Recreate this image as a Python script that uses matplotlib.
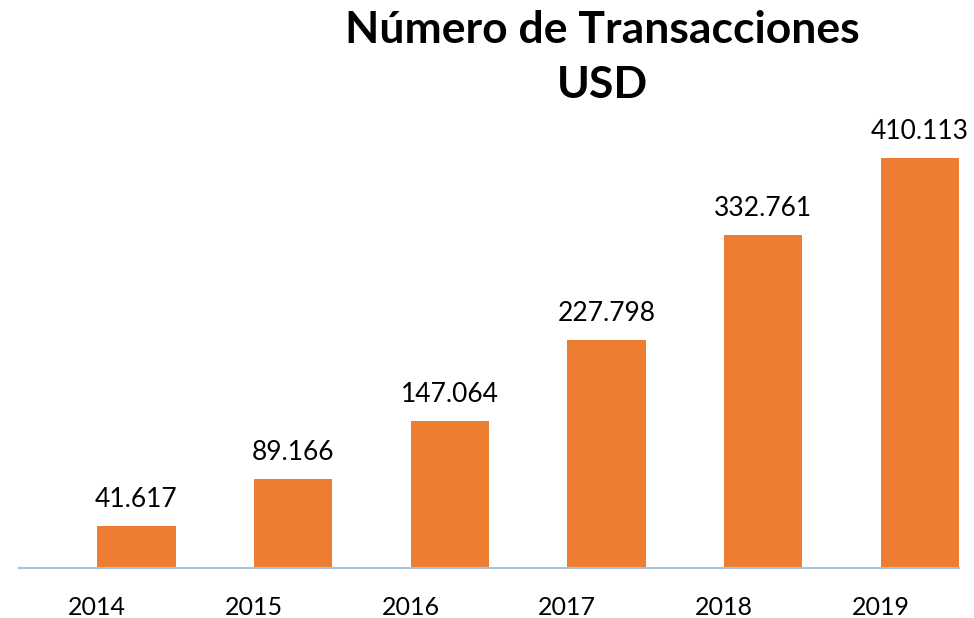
import matplotlib
matplotlib.use("Agg")
import matplotlib.pyplot as plt
import numpy as np

years = ["2014", "2015", "2016", "2017", "2018", "2019"]
transacciones = [41617, 89166, 147064, 227798, 332761, 410113]
labels = ["41.617", "89.166", "147.064", "227.798", "332.761", "410.113"]

plt.rcParams['font.family'] = ['Lato', 'DejaVu Sans']

fig = plt.figure(figsize=(9.74, 6.18), dpi=100)
# baseline (0) sits at y=568 px, 1 px per 1000
ax = fig.add_axes([19 / 974, 50 / 618, 940 / 974, 450 / 618])

x = np.arange(len(years))
bars = ax.bar(x, transacciones, width=0.5, align='edge', color='#ED7D31')

for b, lab in zip(bars, labels):
    ax.text(b.get_x() + b.get_width() / 2, b.get_height() + 14000, lab,
            ha='center', va='bottom', fontsize=19, color='#000000')

ax.set_xlim(-0.5, 5.5)
ax.set_ylim(0, 450000)
ax.set_xticks(x)
ax.set_xticklabels(years, fontsize=18)
ax.set_yticks([])
ax.tick_params(axis='x', length=0, pad=20)
for s in ['top', 'right', 'left']:
    ax.spines[s].set_visible(False)
ax.spines['bottom'].set_color('#A9C1DC')
ax.spines['bottom'].set_linewidth(1.5)

fig.text(602 / 974, 1 - 30 / 618, "Número de Transacciones", ha='center', va='center',
         fontsize=32, fontweight='bold')
fig.text(602 / 974, 1 - 85 / 618, "USD", ha='center', va='center',
         fontsize=32, fontweight='bold')

fig.savefig("out.png", dpi=100)
